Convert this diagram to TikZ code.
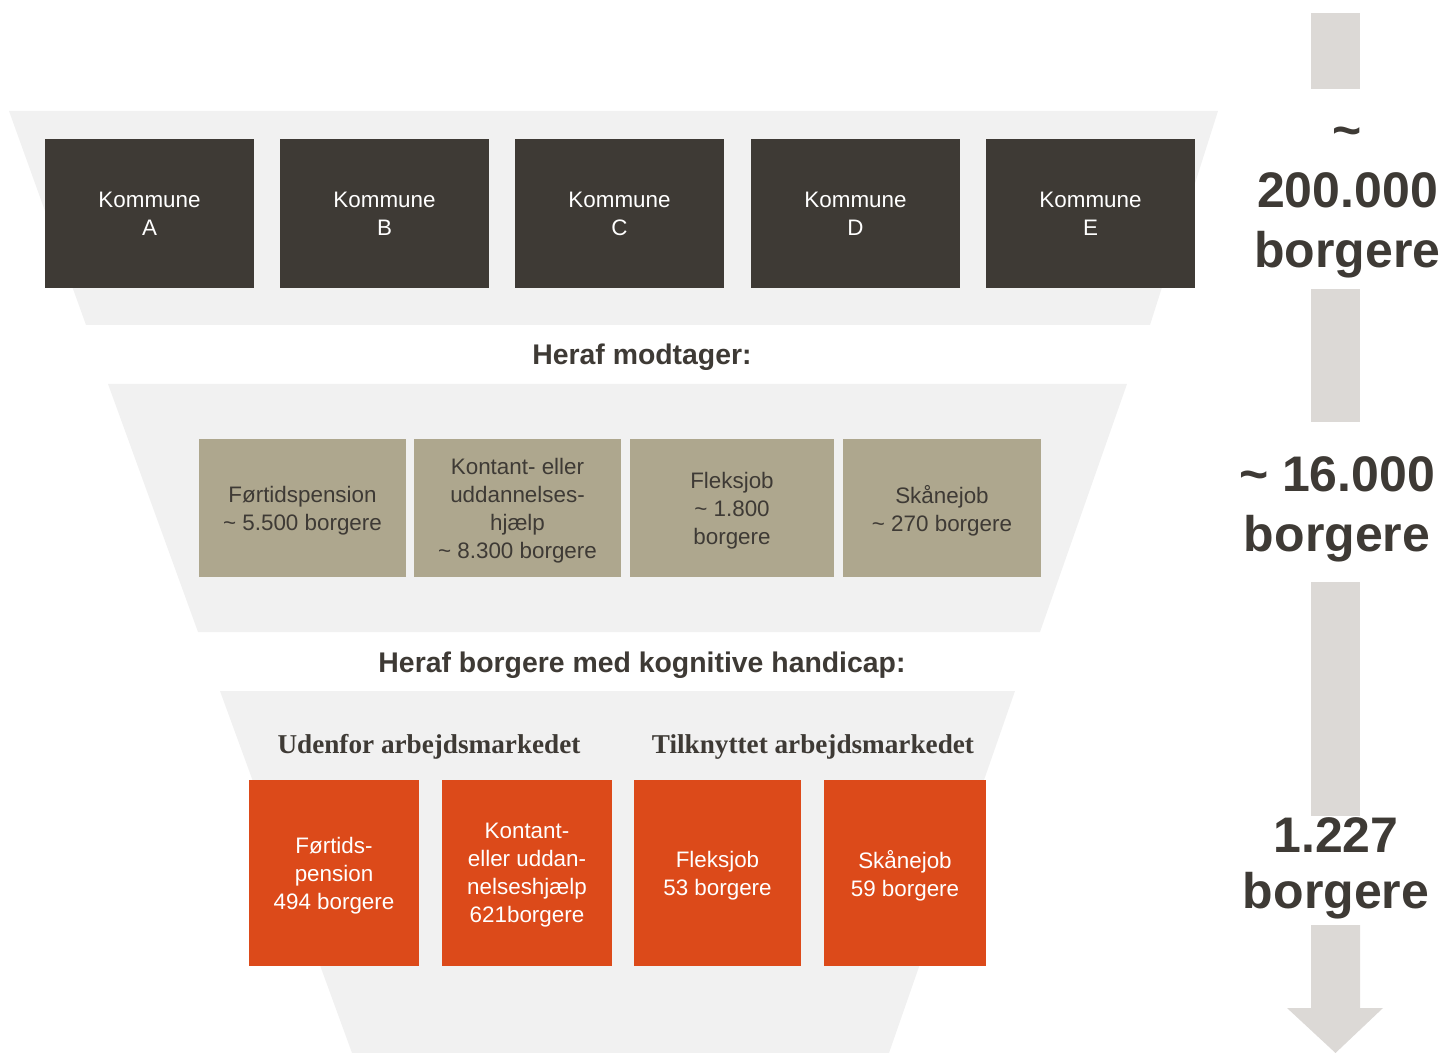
\documentclass[tikz,border=0pt]{standalone}
\usepackage{fontspec}
\setmainfont{Liberation Sans}
\newfontfamily\serifbold{Liberation Serif}
\definecolor{darkc}{HTML}{3E3A35}
\definecolor{greyc}{HTML}{AEA78E}
\definecolor{orangec}{HTML}{DC4A1A}
\definecolor{funnelc}{HTML}{F1F1F1}
\definecolor{arrowc}{HTML}{DCD9D6}
\begin{document}
\begin{tikzpicture}[x=0.5pt,y=-0.5pt,
  funnel/.style={fill=funnelc},
  arrowpart/.style={fill=arrowc},
  kbox/.style={fill=darkc, text=white, minimum width=104.5pt, minimum height=74.5pt,
    inner sep=0pt, align=center, font=\fontsize{11.2}{14}\selectfont},
  gbox/.style={fill=greyc, text=darkc, minimum height=69pt, text depth=0pt,
    inner sep=0pt, align=center, font=\fontsize{11.2}{14}\selectfont},
  obox/.style={fill=orangec, text=white, minimum height=93pt, text depth=0pt,
    inner sep=0pt, align=center, font=\fontsize{11.2}{14}\selectfont},
  head/.style={text=darkc, inner sep=0pt, anchor=base, font=\fontsize{14.2}{17}\selectfont\bfseries},
  sect/.style={text=darkc, inner sep=0pt, anchor=base, font=\fontsize{13.6}{16}\serifbold\bfseries},
  big/.style={text=darkc, inner sep=0pt, anchor=base, align=center, font=\fontsize{25}{30}\selectfont\bfseries}
]
\useasboundingbox (0,0) rectangle (1446,1053);
% funnel stages
\fill[funnel] (9,111) -- (1218,111) -- (1150,325) -- (86,325) -- cycle;
\fill[funnel] (108,384) -- (1127,384) -- (1040,632) -- (198,632) -- cycle;
\fill[funnel] (220,691) -- (1015,691) -- (889,1053) -- (352,1053) -- cycle;
% side arrow
\fill[arrowpart] (1311,13) rectangle (1360,89);
\fill[arrowpart] (1311,289) rectangle (1360,422);
\fill[arrowpart] (1311,582) rectangle (1360,816);
\fill[arrowpart] (1311,925) -- (1360,925) -- (1360,1008) -- (1383,1008) -- (1335.5,1053)
  -- (1287,1008) -- (1311,1008) -- cycle;
% kommuner
\node[kbox] (ka) at (149.5,213.5) {Kommune\\A};
\node[kbox] (kb) at (384.5,213.5) {Kommune\\B};
\node[kbox] (kc) at (619.5,213.5) {Kommune\\C};
\node[kbox] (kd) at (855.5,213.5) {Kommune\\D};
\node[kbox] (ke) at (1090.5,213.5) {Kommune\\E};
% headings
\node[head] (h1) at (642,365) {Heraf modtager:};
\node[head] (h2) at (642,672) {Heraf borgere med kognitive handicap:};
% grey boxes
\node[gbox, minimum width=103.5pt] (ga) at (302.5,508) {Førtidspension\\\textasciitilde{} 5.500 borgere};
\node[gbox, minimum width=103.5pt] (gb) at (517.5,508) {Kontant- eller\\uddannelses-\\hjælp\\\textasciitilde{} 8.300 borgere};
\node[gbox, minimum width=102pt] (gc) at (732,508) {Fleksjob\\\textasciitilde{} 1.800\\borgere};
\node[gbox, minimum width=99pt] (gd) at (942,508) {Skånejob\\\textasciitilde{} 270 borgere};
% section labels
\node[sect] (s1) at (429,753) {Udenfor arbejdsmarkedet};
\node[sect] (s2) at (813,753) {Tilknyttet arbejdsmarkedet};
% orange boxes
\node[obox, minimum width=85pt] (oa) at (334,873) {Førtids-\\pension\\494 borgere};
\node[obox, minimum width=85pt] (ob) at (527,873) {Kontant-\\eller uddan-\\nelseshjælp\\621borgere};
\node[obox, minimum width=83.5pt] (oc) at (717.5,873) {Fleksjob\\53 borgere};
\node[obox, minimum width=81pt] (od) at (905,873) {Skånejob\\59 borgere};
% big labels (anchor base = last line baseline)
\node[big] (b1) at (1347.5,268) {\textasciitilde\\200.000\\borgere};
\node[big] (b2) at (1337,552) {\textasciitilde{} 16.000\\borgere};
\node[big, font=\fontsize{25}{28}\selectfont\bfseries] (b3) at (1336,908) {1.227\\borgere};
\end{tikzpicture}
\end{document}
